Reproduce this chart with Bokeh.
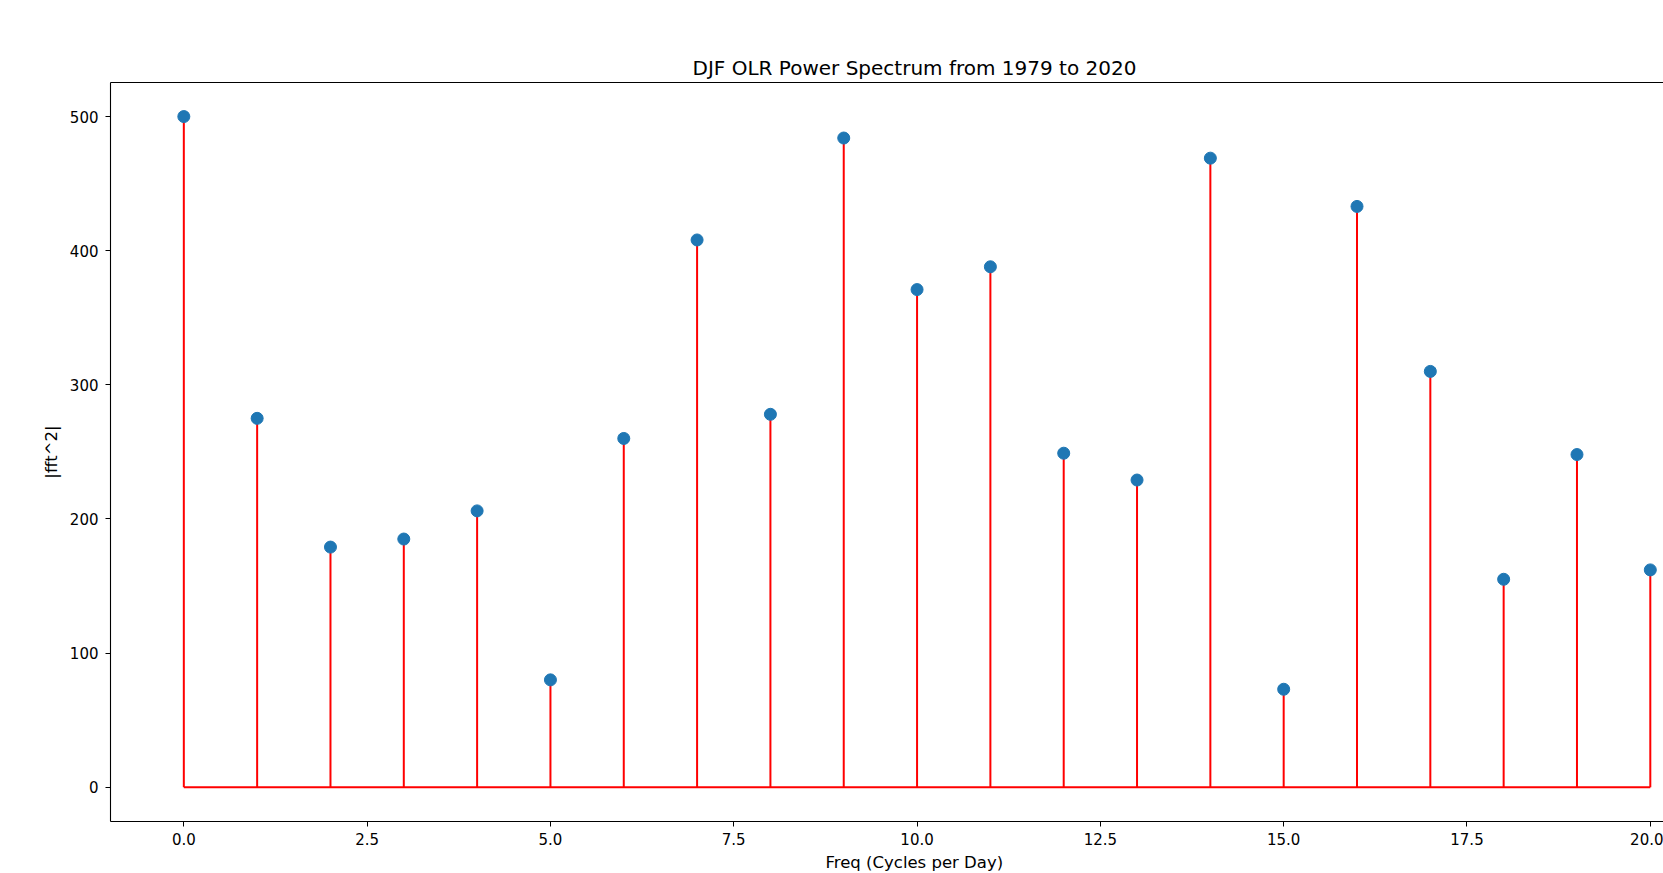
from bokeh.plotting import figure
from bokeh.models import (Range1d, FixedTicker, NumeralTickFormatter, LinearAxis,
                          ColumnDataSource, Title)
from bokeh.embed import file_html
from bokeh.resources import INLINE

# Data
freq = [0, 1, 2, 3, 4, 5, 6, 7, 8, 9, 10, 11, 12, 13, 14, 15, 16, 17, 18, 19, 20]
power = [500, 275, 179, 185, 206, 80, 260, 408, 278, 484, 371, 388, 249, 229,
         469, 73, 433, 310, 155, 248, 162]
x_ticks = [0, 2.5, 5, 7.5, 10, 12.5, 15, 17.5, 20]
y_ticks = [0, 100, 200, 300, 400, 500]

title_text = "DJF OLR Power Spectrum from 1979 to 2020"
x_label = "Freq (Cycles per Day)"
y_label = "|fft^2|"

FONT = "DejaVu Sans"

p = figure(width=1663, height=873, output_backend="svg", toolbar_location=None,
           x_range=Range1d(-1.0, 20.18), y_range=Range1d(-25.6, 525.4),
           min_border_left=110, min_border_right=0, min_border_top=82,
           min_border_bottom=10)

p.frame_width = 1553
p.frame_height = 739

xax = p.below[0]
yax = p.left[0]

p.outline_line_color = None
p.xgrid.visible = False
p.ygrid.visible = False
p.background_fill_color = "white"
p.border_fill_color = "white"

# top border (the right border is outside the window in the reference)
top_axis = LinearAxis(ticker=FixedTicker(ticks=[]), axis_line_color="black",
                      axis_line_width=1.1, major_tick_out=0, major_tick_in=0,
                      minor_tick_out=0, minor_tick_in=0,
                      major_label_text_font_size="0px", major_label_standoff=0)
p.add_layout(top_axis, "above")

t = Title(text=title_text, align="left", offset=582, standoff=6,
          text_font=FONT, text_font_size="20px", text_font_style="normal",
          text_color="black")
p.add_layout(t, "above")

src = ColumnDataSource(dict(x=freq, y=power, y0=[0] * len(freq)))

# stems
p.segment(x0="x", y0="y0", x1="x", y1="y", source=src, line_color="red",
          line_width=2)
# baseline
p.line(x=[freq[0], freq[-1]], y=[0, 0], line_color="red", line_width=2)
# markers
p.scatter(x="x", y="y", source=src, size=12, fill_color="#1f77b4",
          line_color="#1f77b4")

for ax in (xax, yax):
    ax.axis_line_color = "black"
    ax.axis_line_width = 1.1
    ax.major_tick_line_color = "black"
    ax.major_tick_out = 5
    ax.major_tick_in = 0
    ax.minor_tick_out = 0
    ax.minor_tick_in = 0
    ax.major_label_text_font = FONT
    ax.major_label_text_font_size = "15px"
    ax.major_label_text_color = "black"
    ax.axis_label_text_font = FONT
    ax.axis_label_text_font_size = "16.5px"
    ax.axis_label_text_font_style = "normal"
    ax.axis_label_text_color = "black"

xax.ticker = FixedTicker(ticks=x_ticks)
xax.formatter = NumeralTickFormatter(format="0.0")
xax.major_label_standoff = 6

# x-axis label, centred on the full (partly off-screen) axes width
xl = Title(text=x_label, align="left", offset=715, standoff=10,
           vertical_align="top",
           text_font=FONT, text_font_size="16.5px", text_font_style="normal",
           text_color="black")
p.add_layout(xl, "below")

yax.ticker = FixedTicker(ticks=y_ticks)
yax.axis_label = y_label
yax.major_label_standoff = 7
yax.axis_label_standoff = 6

open("out.html", "w").write(file_html(p, INLINE))
